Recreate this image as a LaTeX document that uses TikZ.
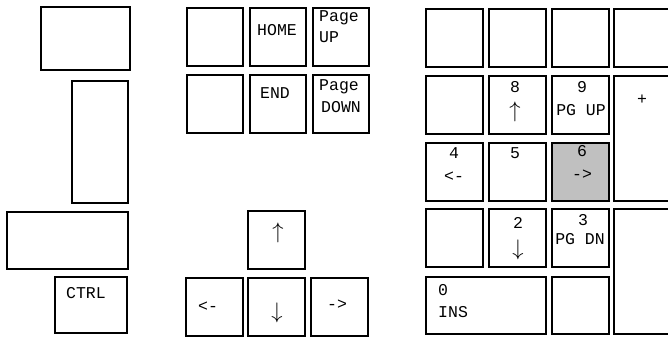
\documentclass[tikz,border=0pt]{standalone}
\usepackage{fontspec}
\setmonofont{Liberation Mono}
\usepackage{tikz}
\usetikzlibrary{positioning}
\definecolor{keygray}{HTML}{C0C0C0}

\begin{document}
\begin{tikzpicture}[x=1pt,y=-1pt,font=\ttfamily\fontsize{16.5}{16.5}\selectfont,
  keybox/.style={draw,line width=2.6pt},
  hitbox/.style={keybox,fill=keygray},
  lbl/.style={inner sep=0pt}]
\useasboundingbox (0,0) rectangle (668,340);
\clip (0,0) rectangle (668,340);
% left column
\draw[keybox] (41,7) rectangle (130,70);
\draw[keybox] (72,81) rectangle (128,203);
\draw[keybox] (7,212) rectangle (128,269);
\draw[keybox] (55,277) rectangle (127,333);
\node[lbl] (ctrl) at (86,293) {CTRL};
% home block
\foreach \y in {8,75} \foreach \x in {187,250,313} \draw[keybox] (\x,\y) rectangle ++(56,58);
\node[lbl] (home) at (277,30) {HOME};
\node[lbl,anchor=west] (pgup) at (319,18) {Page};
\node[lbl,anchor=west] (pgupb) at (319,37) {UP};
\node[lbl] (end) at (275,93) {END};
\node[lbl,anchor=west] (pgdn) at (319,87) {Page};
\node[lbl,anchor=west] (pgdnb) at (321,107) {DOWN};
% cursor keys
\draw[keybox] (248,211) rectangle ++(57,58);
\foreach \x in {186,248,311} \draw[keybox] (\x,278) rectangle ++(57,58);
\node[lbl,scale=1.3] (up) at (278,233) {$\uparrow$};
\node[lbl] (left) at (208,307) {<-};
\node[lbl,scale=1.3] (down) at (277,313) {$\downarrow$};
\node[lbl] (right) at (337,305) {->};
% numeric pad
\foreach \x in {426,489,552} \draw[keybox] (\x,9) rectangle ++(57,58);
\draw[keybox] (614,9) rectangle (672,67);
\foreach \y in {76,143,209} \foreach \x in {426,489} \draw[keybox] (\x,\y) rectangle ++(57,58);
\draw[keybox] (552,76) rectangle ++(57,58);
\draw[hitbox] (552,143) rectangle ++(57,58);
\draw[keybox] (552,209) rectangle ++(57,58);
\draw[keybox] (614,76) rectangle (672,201);
\draw[keybox] (614,209) rectangle (672,334);
\draw[keybox] (426,277) rectangle (546,334);
\draw[keybox] (552,277) rectangle ++(57,57);
\node[lbl] (n8) at (515,87) {8};
\node[lbl,scale=1.3] (n8a) at (515,112) {$\uparrow$};
\node[lbl] (n9) at (582,87) {9};
\node[lbl] (n9a) at (581,110) {PG UP};
\node[lbl] (plus) at (642,100) {+};
\node[lbl] (n4) at (454,153) {4};
\node[lbl] (n4a) at (454,177) {<-};
\node[lbl] (n5) at (515,153) {5};
\node[lbl] (n6) at (582,151) {6};
\node[lbl] (n6a) at (582,175) {->};
\node[lbl] (n2) at (518,223) {2};
\node[lbl,scale=1.3] (n2a) at (518,250) {$\downarrow$};
\node[lbl] (n3) at (583,220) {3};
\node[lbl] (n3a) at (580,239) {PG DN};
\node[lbl,anchor=west] (n0) at (438,290) {0};
\node[lbl,anchor=west] (n0a) at (438,312) {INS};
\end{tikzpicture}
\end{document}
